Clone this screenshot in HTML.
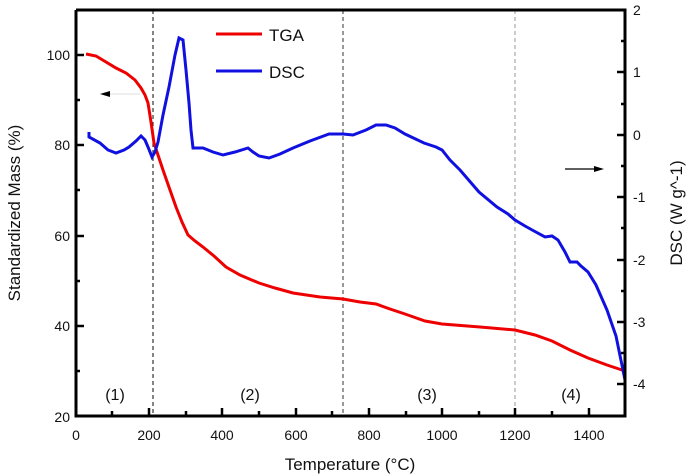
<!DOCTYPE html><html><head><style>body{margin:0;background:#fff}svg{display:block;font-family:"Liberation Sans",Arial,sans-serif}</style></head><body>
<svg width="692" height="476" viewBox="0 0 692 476">
<g stroke="#333" stroke-dasharray="4,3" stroke-width="1.2"><line x1="153" y1="10" x2="153" y2="416"/><line x1="343" y1="10" x2="343" y2="416" stroke="#555"/><line x1="515" y1="10" x2="515" y2="416" stroke="#aaa"/></g>
<polyline fill="none" stroke="#e00" stroke-width="3" points="86,54 96,56 106,62 116,68 126,73 135,80 141,88 145,95 148,103 151,122 154,143 163,170 170,190 176,207 182,222 188,235 195,241 203,247 214,256 226,267 240,275 259,283 275,288 293,293 320,297 343,299 360,302 376,304 390,309 405,314 425,321 442,324 480,327 515,330 535,335 552,341 570,350 588,358 607,365 625,371"/>
<polyline fill="none" stroke="#1010e0" stroke-width="3" points="89,132 89,137 100,143 108,150 116,153 124,150 129,147 136,141 141,136 145,140 148,147 152,157 155,152 158,142 163,115 169,87 175,55 179,38 183,40 186,70 189,103 191,130 193,148 203,148 213,152 223,155 235,152 248,148 253,152 259,156 269,158 280,154 293,148 310,141 329,134 343,134 353,135 366,130 376,125 386,125 395,128 405,134 424,143 436,147 442,150 450,160 460,170 479,192 497,207 508,214 515,220 525,226 534,231 545,237 552,236 558,240 565,252 570,262 577,262 581,266 588,272 596,285 607,310 616,336 625,380"/>
<g stroke="#000" stroke-width="3" fill="none"><polyline points="76,10 76,416 625,416 625,10 76,10"/></g>
<g stroke="#000" stroke-width="2.5">
<line x1="76" y1="55" x2="84" y2="55"/><line x1="76" y1="100" x2="80" y2="100"/><line x1="76" y1="145" x2="84" y2="145"/><line x1="76" y1="190" x2="80" y2="190"/><line x1="76" y1="236" x2="84" y2="236"/><line x1="76" y1="281" x2="80" y2="281"/><line x1="76" y1="326" x2="84" y2="326"/><line x1="76" y1="371" x2="80" y2="371"/>
<line x1="625" y1="10" x2="617" y2="10"/><line x1="625" y1="41" x2="621" y2="41"/><line x1="625" y1="72" x2="617" y2="72"/><line x1="625" y1="104" x2="621" y2="104"/><line x1="625" y1="135" x2="617" y2="135"/><line x1="625" y1="166" x2="621" y2="166"/><line x1="625" y1="197" x2="617" y2="197"/><line x1="625" y1="228" x2="621" y2="228"/><line x1="625" y1="260" x2="617" y2="260"/><line x1="625" y1="291" x2="621" y2="291"/><line x1="625" y1="322" x2="617" y2="322"/><line x1="625" y1="353" x2="621" y2="353"/><line x1="625" y1="384" x2="617" y2="384"/>
<line x1="112" y1="416" x2="112" y2="411"/><line x1="149" y1="416" x2="149" y2="408"/><line x1="186" y1="416" x2="186" y2="411"/><line x1="222" y1="416" x2="222" y2="408"/><line x1="259" y1="416" x2="259" y2="411"/><line x1="296" y1="416" x2="296" y2="408"/><line x1="332" y1="416" x2="332" y2="411"/><line x1="369" y1="416" x2="369" y2="408"/><line x1="406" y1="416" x2="406" y2="411"/><line x1="442" y1="416" x2="442" y2="408"/><line x1="479" y1="416" x2="479" y2="411"/><line x1="515" y1="416" x2="515" y2="408"/><line x1="552" y1="416" x2="552" y2="411"/><line x1="589" y1="416" x2="589" y2="408"/>
</g>
<g font-size="14" fill="#111" text-anchor="end"><text x="70" y="60">100</text><text x="70" y="150">80</text><text x="70" y="241">60</text><text x="70" y="331">40</text><text x="70" y="422">20</text></g>
<g font-size="14" fill="#111"><text x="633" y="15">2</text><text x="633" y="77">1</text><text x="633" y="140">0</text><text x="633" y="202">-1</text><text x="633" y="265">-2</text><text x="633" y="327">-3</text><text x="633" y="389">-4</text></g>
<g font-size="14" fill="#111" text-anchor="middle"><text x="76" y="440">0</text><text x="149" y="440">200</text><text x="222" y="440">400</text><text x="296" y="440">600</text><text x="369" y="440">800</text><text x="442" y="440">1000</text><text x="515" y="440">1200</text><text x="589" y="440">1400</text>
<text x="115" y="400" font-size="16">(1)</text><text x="250" y="400" font-size="16">(2)</text><text x="427" y="400" font-size="16">(3)</text><text x="571" y="400" font-size="16">(4)</text>
<text x="350" y="470" font-size="17">Temperature (°C)</text>
<text transform="translate(20,213) rotate(-90)" font-size="17">Standardized Mass (%)</text>
<text transform="translate(682,213) rotate(-90)" font-size="17">DSC (W g^-1)</text></g>
<line x1="216" y1="34" x2="262" y2="34" stroke="#e00" stroke-width="3"/><text x="269" y="41" font-size="17" fill="#111">TGA</text>
<line x1="216" y1="71" x2="262" y2="71" stroke="#1010e0" stroke-width="3"/><text x="269" y="78" font-size="17" fill="#111">DSC</text>
<line x1="104" y1="94" x2="140" y2="94" stroke="#ddd" stroke-width="1"/><polygon points="100,94 110,91 110,97" fill="#000"/>
<line x1="565" y1="169" x2="596" y2="169" stroke="#000" stroke-width="1.2"/><polygon points="604,169 594,166 594,172" fill="#000"/>
</svg></body></html>
